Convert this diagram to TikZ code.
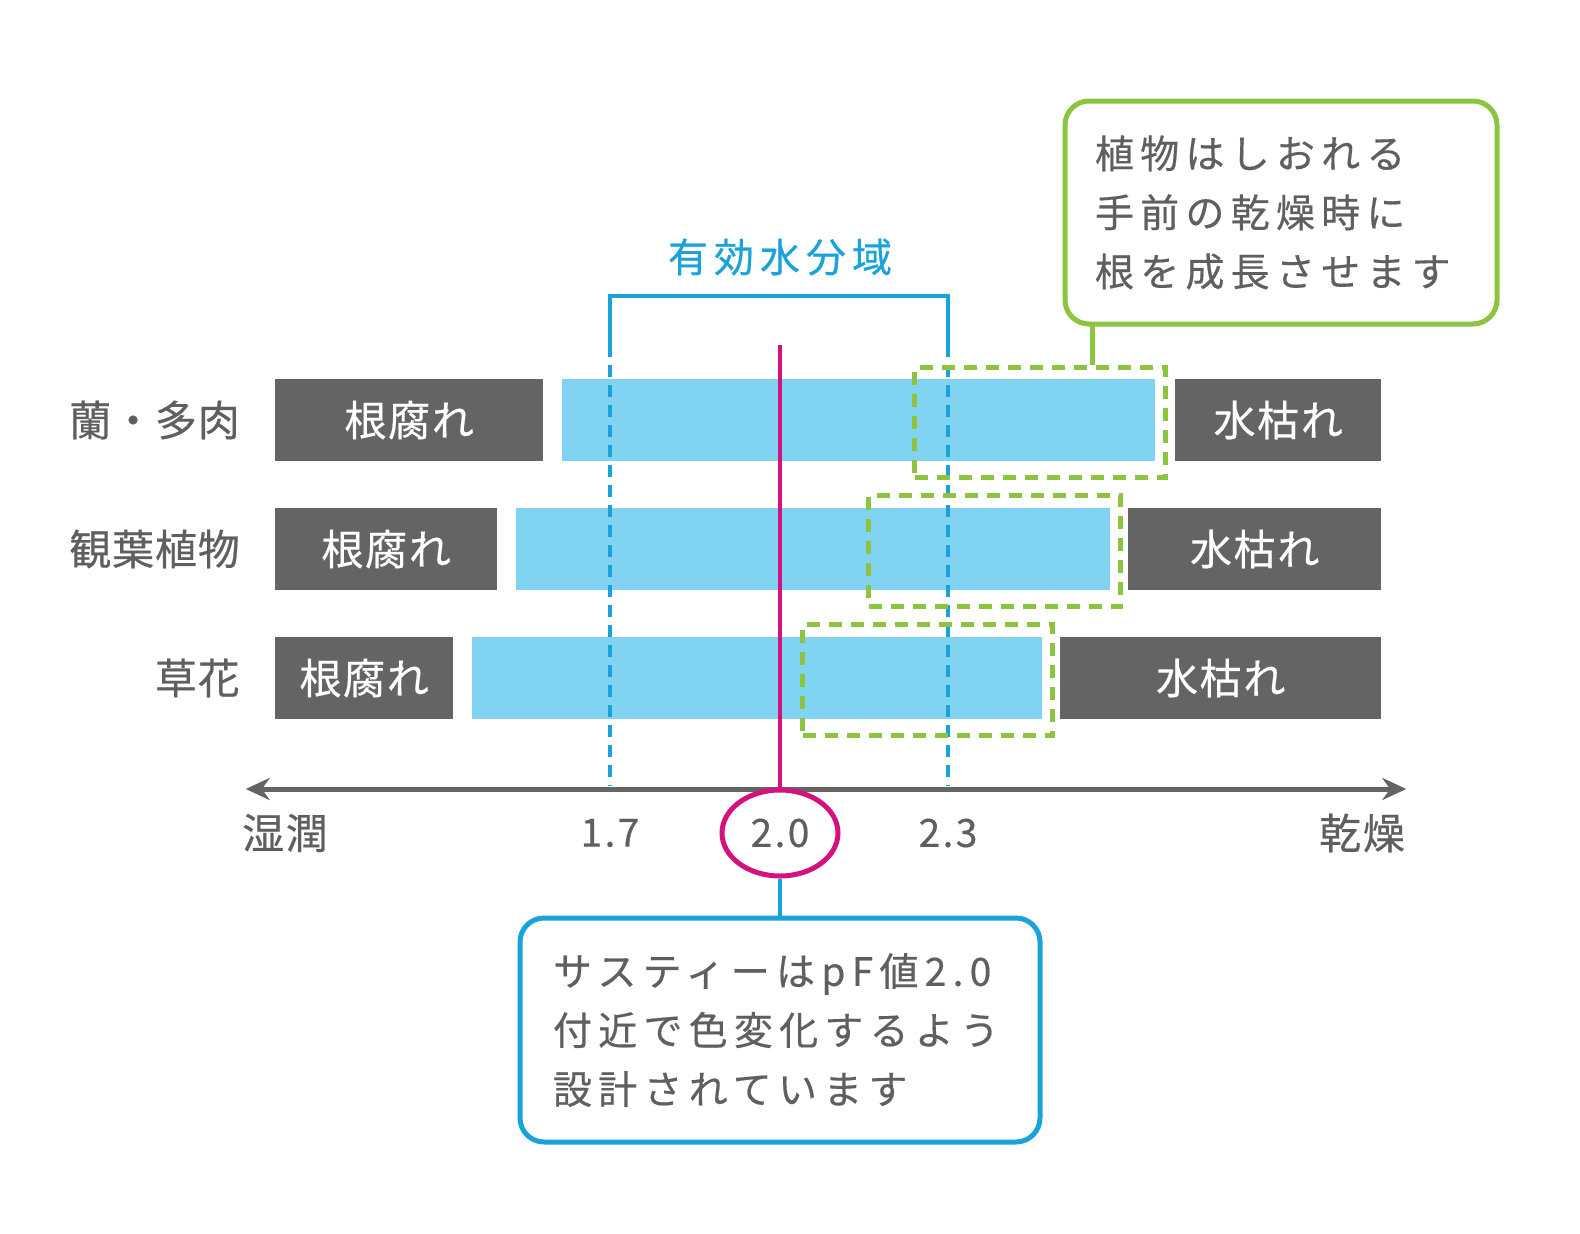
\documentclass[tikz,border=0pt]{standalone}
\usepackage{fontspec}
\setmainfont{Noto Sans CJK JP}
\usetikzlibrary{shapes.geometric, arrows.meta, positioning}

\definecolor{boxgray}{RGB}{100,100,100}
\definecolor{txtgray}{RGB}{95,95,95}
\definecolor{barblue}{RGB}{128,212,242}
\definecolor{lineblue}{RGB}{26,163,219}
\definecolor{leafgreen}{RGB}{141,196,63}
\definecolor{pfpink}{RGB}{212,18,127}

\newcommand{\jpfont}[2]{\fontsize{#1}{59}\selectfont\addfontfeatures{LetterSpace=#2,FakeBold=0.4}}

\begin{document}
\begin{tikzpicture}[x=1pt,y=-1pt,
  darkbox/.style={fill=boxgray, text=white, minimum height=82pt, inner sep=0pt, anchor=west, font=\jpfont{42}{4}},
  barbox/.style={fill=barblue, minimum height=82pt, inner sep=0pt, anchor=west},
  hlbox/.style={draw=leafgreen, line width=5pt, dash pattern=on 13pt off 9pt, inner sep=0pt, anchor=north west},
  rowlbl/.style={text=txtgray, anchor=east, inner sep=0pt, font=\jpfont{42}{2}},
  ticklbl/.style={text=txtgray, inner sep=0pt, font=\jpfont{39}{6}},
  endlbl/.style={text=txtgray, inner sep=0pt, font=\jpfont{42}{4}},
  effdash/.style={lineblue, line width=4.5pt, dash pattern=on 12pt off 8pt},
  effline/.style={lineblue, line width=4.5pt},
  memo/.style={draw, rounded corners=24pt, line width=5pt, fill=white, text=txtgray, align=left,
    inner sep=0pt, font=\jpfont{39}{16}}
]
\fill[white] (0,0) rectangle (1580,1234);

% bars
\node[barbox, minimum width=593pt] (bar1) at (562,420) {};
\node[barbox, minimum width=594pt] (bar2) at (516,549) {};
\node[barbox, minimum width=570pt] (bar3) at (472,678) {};

\node[darkbox, minimum width=268pt] (rot1) at (275,420) {根腐れ};
\node[darkbox, minimum width=222pt] (rot2) at (275,549) {根腐れ};
\node[darkbox, minimum width=178pt] (rot3) at (275,678) {根腐れ};

\node[darkbox, minimum width=206pt] (dry1) at (1175,420) {水枯れ};
\node[darkbox, minimum width=253pt] (dry2) at (1128,549) {水枯れ};
\node[darkbox, minimum width=321pt] (dry3) at (1060,678) {水枯れ};

\node[rowlbl] (orchid) at (240,420) {蘭・多肉};
\node[rowlbl] (foliage) at (240,549) {観葉植物};
\node[rowlbl] (flower) at (240,678) {草花};

% effective water range
\coordinate (lo) at (610,345);
\coordinate (hi) at (948,345);
\draw[effline] (lo) -- (610,296) -- (948,296) -- (hi);
\draw[effdash] (lo) -- (610,786);
\draw[effdash] (hi) -- (948,786);
\node[text=lineblue, font=\jpfont{40}{15}] (range) at (780,257) {有効水分域};

\node[hlbox, minimum width=251pt, minimum height=110pt] (hl1) at (912,365) {};
\node[hlbox, minimum width=252pt, minimum height=111pt] (hl2) at (866,493) {};
\node[hlbox, minimum width=250pt, minimum height=111pt] (hl3) at (800,622) {};

% axis
\node[inner sep=0pt] (wet) at (245,789) {};
\node[inner sep=0pt] (dryend) at (1407,789) {};
\draw[boxgray, line width=5pt, {Stealth[length=24pt,width=22pt]}-{Stealth[length=24pt,width=22pt]}] (wet) -- (dryend);

\node[endlbl] (wetlbl) at (285,833) {湿潤};
\node[ticklbl] (t17) at (610,833) {1.7};
\node[ticklbl] (t23) at (948,833) {2.3};
\node[endlbl] (drylbl) at (1362,833) {乾燥};
\node[ticklbl, draw=pfpink, line width=5pt, ellipse, minimum width=116pt, minimum height=86pt] (pf) at (780,833) {2.0};

\coordinate (pftop) at (780,345);
\draw[pfpink, line width=4pt] (pftop) -- (pf.north);

% callouts
\node[memo, draw=lineblue, minimum width=520pt, minimum height=224pt, text width=454pt] (sastee) at (780,1030)
  {サスティーはpF値2.0\\付近で色変化するよう\\設計されています};
\draw[effline] (pf.south) -- (sastee.north);

\node[memo, draw=leafgreen, minimum width=432pt, minimum height=223pt, text width=372pt] (grow) at (1281,212.5)
  {植物はしおれる\\手前の乾燥時に\\根を成長させます};
\coordinate (pin) at (1092,324);
\draw[leafgreen, line width=5pt] (pin) -- (pin |- hl1.north);

\pgfresetboundingbox
\useasboundingbox (0,0) rectangle (1580,1234);
\end{tikzpicture}
\end{document}
